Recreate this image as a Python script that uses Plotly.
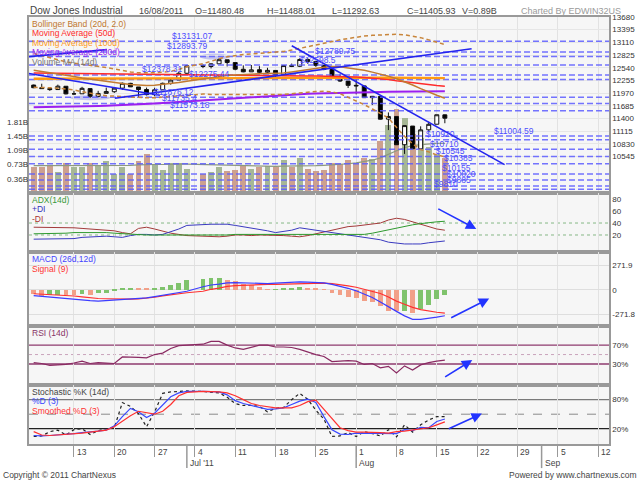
"""Dow Jones Industrial daily chart with indicator panels (ChartNexus style)."""

import numpy as np
import plotly.graph_objects as go

# ---------------- data ----------------
dates = [
    "2011-06-06", "2011-06-07", "2011-06-08", "2011-06-09", "2011-06-10",
    "2011-06-13", "2011-06-14", "2011-06-15", "2011-06-16", "2011-06-17",
    "2011-06-20", "2011-06-21", "2011-06-22", "2011-06-23", "2011-06-24",
    "2011-06-27", "2011-06-28", "2011-06-29", "2011-06-30", "2011-07-01",
    "2011-07-05", "2011-07-06", "2011-07-07", "2011-07-08",
    "2011-07-11", "2011-07-12", "2011-07-13", "2011-07-14", "2011-07-15",
    "2011-07-18", "2011-07-19", "2011-07-20", "2011-07-21", "2011-07-22",
    "2011-07-25", "2011-07-26", "2011-07-27", "2011-07-28", "2011-07-29",
    "2011-08-01", "2011-08-02", "2011-08-03", "2011-08-04", "2011-08-05",
    "2011-08-08", "2011-08-09", "2011-08-10", "2011-08-11", "2011-08-12",
    "2011-08-15", "2011-08-16",
]
opens = [12150, 12090, 12070, 12049, 12123,
         11952, 11954, 12070, 11897, 11963,
         12000, 12080, 12188, 12107, 12050,
         11934, 12043, 12188, 12263, 12415,
         12583, 12567, 12627, 12717,
         12655, 12505, 12447, 12494, 12438,
         12478, 12386, 12586, 12572, 12723,
         12680, 12592, 12500, 12302, 12239,
         12144, 12131, 11867, 11894, 11384,
         11445, 10810, 11229, 10719, 11144,
         11270, 11480.48]
highs = [12160, 12180, 12090, 12160, 12125,
         12020, 12110, 12075, 12020, 12093,
         12096, 12206, 12200, 12107, 12093,
         12090, 12205, 12286, 12448, 12603,
         12616, 12641, 12753, 12717,
         12655, 12593, 12601, 12575, 12538,
         12478, 12590, 12632, 12751, 12751,
         12680, 12592, 12500, 12391, 12239,
         12283, 12131, 11905, 11894, 11535,
         11445, 11244, 11229, 11223, 11327,
         11483, 11488.01]
lows = [12080, 12065, 12020, 12045, 11940,
        11930, 11954, 11862, 11876, 11963,
        11975, 12040, 12109, 11874, 11917,
        11898, 12043, 12158, 12263, 12398,
        12530, 12523, 12627, 12568,
        12482, 12437, 12447, 12413, 12412,
        12317, 12386, 12554, 12554, 12626,
        12559, 12483, 12283, 12220, 12083,
        11940, 11862, 11700, 11376, 11139,
        10809, 10604, 10711, 10719, 11087,
        11270, 11292.63]
closes = [12089.96, 12070.81, 12048.94, 12124.36, 11951.91,
          11952.97, 12076.11, 11897.27, 11961.52, 12004.36,
          12080.38, 12190.01, 12109.67, 12050.00, 11934.58,
          12043.56, 12188.69, 12261.42, 12414.34, 12582.77,
          12569.87, 12626.02, 12719.49, 12657.20,
          12505.76, 12446.88, 12491.61, 12437.12, 12479.73,
          12385.16, 12587.42, 12571.91, 12724.41, 12681.16,
          12592.80, 12501.30, 12302.55, 12240.11, 12143.24,
          12132.49, 11866.62, 11896.44, 11383.68, 11444.61,
          10809.85, 11239.77, 10719.94, 11143.31, 11269.02,
          11482.90, 11405.93]
prev_close = 12151.26  # close of 3 Jun, colours the first volume bar

volume_b = [0.68, 0.68, 0.72, 0.55, 0.76,
            0.68, 0.68, 0.78, 0.72, 0.82,
            0.49, 0.68, 0.49, 0.83, 1.00,
            0.72, 0.59, 0.78, 0.78, 0.61,
            0.49, 0.53, 0.68, 0.57,
            0.59, 0.69, 0.61, 0.68, 0.69,
            0.68, 0.86, 0.68, 0.90, 0.63,
            0.57, 0.59, 0.76, 0.74, 0.86,
            0.76, 0.89, 0.87, 1.33, 1.73,
            2.15, 1.93, 1.52, 1.40, 1.18,
            1.00, 0.89]
volume_ma = [0.70, 0.70, 0.70, 0.70, 0.70,
             0.70, 0.70, 0.70, 0.71, 0.71,
             0.71, 0.71, 0.71, 0.72, 0.73,
             0.73, 0.73, 0.74, 0.74, 0.74,
             0.73, 0.72, 0.71, 0.71,
             0.70, 0.70, 0.69, 0.68, 0.68,
             0.68, 0.69, 0.69, 0.69, 0.70,
             0.70, 0.71, 0.72, 0.73, 0.75,
             0.77, 0.80, 0.84, 0.90, 0.98,
             1.08, 1.16, 1.21, 1.24, 1.26,
             1.27, 1.27]

ma50 = [12420, 12418, 12415, 12413, 12410,
        12405, 12402, 12400, 12397, 12395,
        12393, 12390, 12388, 12385, 12382,
        12380, 12378, 12376, 12374, 12372,
        12370, 12368, 12365, 12362,
        12358, 12355, 12352, 12350, 12348,
        12346, 12346, 12348, 12350, 12352,
        12354, 12352, 12348, 12344, 12338,
        12332, 12322, 12310, 12292, 12272,
        12245, 12222, 12198, 12175, 12155,
        12138, 12125]
ma100 = [12290, 12291, 12292, 12293, 12294,
         12295, 12296, 12297, 12298, 12299,
         12300, 12301, 12302, 12303, 12304,
         12305, 12306, 12307, 12308, 12310,
         12311, 12312, 12313, 12314,
         12315, 12316, 12316, 12317, 12317,
         12318, 12318, 12319, 12319, 12320,
         12320, 12320, 12320, 12319, 12319,
         12318, 12317, 12316, 12315, 12313,
         12312, 12311, 12310, 12308, 12307,
         12306, 12305]
ma200 = [11650, 11652, 11655, 11658, 11661,
         11665, 11669, 11673, 11678, 11684,
         11690, 11697, 11705, 11714, 11724,
         11735, 11746, 11758, 11770, 11783,
         11808, 11821, 11834, 11847,
         11860, 11872, 11884, 11896, 11907,
         11918, 11928, 11938, 11947, 11955,
         11962, 11968, 11974, 11979, 11983,
         11987, 11990, 11993, 11996, 11998,
         12000, 12002, 12004, 12006, 12007,
         12008, 12010]
bb_mid = [12480, 12455, 12425, 12395, 12368,
          12340, 12310, 12282, 12255, 12228,
          12205, 12185, 12165, 12150, 12142,
          12145, 12160, 12180, 12205, 12235,
          12290, 12315, 12340, 12362,
          12378, 12390, 12398, 12404, 12408,
          12410, 12422, 12445, 12475, 12505,
          12530, 12552, 12565, 12560, 12535,
          12510, 12480, 12440, 12400, 12350,
          12290, 12225, 12150, 12070, 11990,
          11920, 11855]
bb_upper = [12860, 12810, 12760, 12710, 12670,
            12640, 12620, 12600, 12575, 12545,
            12510, 12475, 12445, 12425, 12420,
            12425, 12440, 12460, 12500, 12560,
            12630, 12690, 12740, 12785,
            12815, 12835, 12850, 12860, 12870,
            12885, 12905, 12935, 12975, 13015,
            13055, 13095, 13130, 13165, 13195,
            13225, 13250, 13268, 13280, 13288,
            13290, 13280, 13255, 13215, 13165,
            13110, 13060]
bb_lower = [12100, 12100, 12090, 12080, 12066,
            12040, 12000, 11964, 11935, 11911,
            11900, 11895, 11885, 11875, 11864,
            11865, 11880, 11900, 11910, 11910,
            11950, 11940, 11940, 11940,
            11941, 11945, 11946, 11948, 11946,
            11935, 11939, 11955, 11975, 11995,
            12005, 12009, 12000, 11955, 11875,
            11795, 11710, 11612, 11520, 11412,
            11200, 11000, 10830, 10700, 10650,
            10580, 10540]

# support / resistance levels drawn on the chart
levels = [13131.07, 12893.79, 12789.75, 12598.5, 12378.31, 12275.44,
          11876.12, 11735.4, 11573.18, 11004.59, 10920, 10710, 10545,
          10385, 10155, 10020, 9885, 9810]

adx = [22, 22, 23, 23, 23, 24, 24, 25, 25, 24,
       23, 22, 21, 20, 20, 20, 20, 19, 19, 19,
       20, 20, 20, 20,
       21, 21, 21, 20, 20, 20, 20, 20, 20, 20,
       20, 20, 20, 20, 20, 20, 21, 23, 26, 29,
       32, 34, 37, 39, 41, 42, 43]
plus_di = [13, 13, 13, 13, 13, 14, 16, 17, 18, 18,
           17, 16, 19, 21, 21, 20, 21, 25, 30, 36,
           38, 38, 38, 38,
           36, 34, 32, 30, 27, 24, 26, 28, 32, 30,
           28, 26, 24, 22, 20, 19, 17, 14, 12, 8,
           6, 5, 5, 5, 7, 9, 10]
minus_di = [33, 33, 32, 32, 32, 32, 31, 30, 29, 28,
            27, 24, 22, 31, 33, 30, 26, 23, 21, 19,
            18, 17, 17, 18,
            20, 20, 19, 20, 20, 20, 19, 18, 17, 19,
            22, 24, 28, 31, 34, 35, 37, 38, 40, 45,
            48, 46, 42, 37, 33, 30, 28]

macd = [-63, -72, -80, -88, -98, -106, -112, -120, -126, -120,
        -112, -105, -100, -95, -89, -75, -60, -42, -28, -15,
        35, 55, 65, 78,
        82, 78, 74, 71, 70, 75, 80, 85, 89, 86,
        84, 78, 62, 42, 18, -10, -50, -85, -135, -190,
        -240, -290, -329, -330, -320, -305, -289]
signal = [-43, -47, -52, -56, -59, -68, -78, -88, -96, -99,
          -102, -104, -104, -100, -92, -82, -67, -55, -42, -32,
          -15, 7, 20, 40,
          48, 53, 56, 59, 61, 63, 65, 67, 69, 72,
          78, 76, 70, 60, 46, 30, 5, -15, -40, -80,
          -125, -160, -195, -220, -238, -250, -259]
macd_hist = [-50, -62, -58, -52, -55, -60, -48, -52, -37, -30,
             -11, 22, 24, 15, 12, 15, 33, 59, 81, 107,
             126, 133, 134, 107,
             96, 70, 59, 33, 8, 11, 15, 22, 33, 22,
             15, 10, -30, -55, -74, -92, -118, -130, -178, -230,
             -240, -230, -260, -215, -170, -100, -55]

rsi = [33, 31, 27, 28, 29, 32, 36, 31, 33, 32,
       31, 45, 45, 44, 43, 50, 53, 63, 69, 70,
       72, 78, 78, 70,
       64, 61, 66, 70, 70, 66, 66, 65, 61, 55,
       50, 46, 35, 36, 37, 36, 29, 31, 22, 25,
       11, 26, 17, 28, 33, 36, 38]

stoch_k = [4, 5, 14, 17, 7, 18, 20, 8, 16, 20,
           22, 74, 66, 51, 24, 55, 93, 96, 97, 98,
           97, 96, 94, 85,
           72, 68, 68, 66, 55, 62, 64, 80, 93, 81,
           58, 40, 4, 5, 12, 4, 14, 10, 5, 18,
           3, 28, 13, 28, 38, 45, 45]
stoch_d = [6, 5, 6, 7, 8, 10, 12, 13, 15, 17,
           26, 45, 62, 55, 43, 52, 70, 86, 94, 97,
           97, 97, 96, 90,
           78, 72, 68, 64, 60, 61, 63, 70, 77, 81,
           74, 45, 18, 9, 8, 11, 11, 11, 10, 10,
           10, 18, 16, 23, 22, 35, 40]
stoch_sd = [14, 7, 6, 7, 8, 9, 11, 13, 15, 17,
            24, 35, 47, 56, 53, 50, 56, 70, 88, 95,
            97, 97, 96, 94,
            88, 80, 72, 68, 65, 63, 63, 63, 68, 76,
            79, 60, 42, 22, 16, 13, 13, 13, 12, 11,
            14, 15, 17, 19, 22, 28, 34]

price_ticks = [13680, 13395, 13110, 12825, 12540, 12255, 11970, 11685,
               11400, 11115, 10830, 10545]
volume_ticks = [0.363, 0.726, 1.089, 1.452, 1.815]
volume_tick_text = ["0.36B", "0.73B", "1.09B", "1.45B", "1.81B"]
month_starts = ["2011-07-01", "2011-08-01", "2011-09-01"]
month_text = ["Jul '11", "Aug", "Sep"]

# ---------------- layout constants ----------------
W, H = 640, 480
FONT = "Liberation Sans, Arial, sans-serif"
X_RANGE = [-0.58, 71.36]
XDOM = [29 / W, 609 / W]


def band(top_px, bottom_px):
    return [1 - bottom_px / H, 1 - top_px / H]


def px_x(p):
    return p / W


def px_y(p):
    return 1 - p / H


def money(v):
    return "$" + f"{v:.2f}".rstrip("0").rstrip(".")


# weekday slots: holidays (4 Jul) stay as an empty slot
day0 = np.datetime64(dates[0])
x = np.busday_count(day0, np.array(dates, dtype="datetime64[D]"))
week_starts = np.arange(np.datetime64("2011-06-13"), np.datetime64("2011-09-13"),
                        np.timedelta64(7, "D"))
week_x = np.busday_count(day0, week_starts)
week_text = [str(d.astype(object).day) for d in week_starts]
month_x = np.busday_count(day0, np.array(month_starts, dtype="datetime64[D]"))

closes_a = np.array(closes)
vol_up = closes_a >= np.concatenate([[prev_close], closes_a[:-1]])
vol_colors = ["#a6b796" if u else "#cda08f" for u in vol_up]
hist_a = np.array(macd_hist)
hist_up = np.diff(hist_a, prepend=np.inf) > 0
hist_colors = ["#7fc36c" if u else "#f2a088" for u in hist_up]

fig = go.Figure()

# ---- main panel: volume underneath (left axis) ----
fig.add_bar(x=x, y=volume_b, width=0.74, marker=dict(color=vol_colors, line_width=0),
            xaxis="x", yaxis="y")
fig.add_scatter(x=x, y=volume_ma, mode="lines", line=dict(color="#8d9a7e", width=1.2),
                xaxis="x", yaxis="y")

# ---- price (right axis, overlaid) ----
for lvl in levels:
    fig.add_scatter(x=X_RANGE, y=[lvl, lvl], mode="lines",
                    line=dict(color="rgba(92,92,255,0.85)", width=1.5, dash="6px,3px"),
                    xaxis="x", yaxis="y2")

fig.add_scatter(x=x, y=ma200, mode="lines", line=dict(color="#9b1ff0", width=2),
                xaxis="x", yaxis="y2")
fig.add_scatter(x=x, y=ma100, mode="lines", line=dict(color="#ff9a10", width=2.4),
                xaxis="x", yaxis="y2")
fig.add_scatter(x=x, y=ma50, mode="lines", line=dict(color="#ff2b2b", width=1.5),
                xaxis="x", yaxis="y2")
fig.add_scatter(x=x, y=bb_mid, mode="lines", line=dict(color="#c27a30", width=1.5),
                xaxis="x", yaxis="y2")
for b in (bb_upper, bb_lower):
    fig.add_scatter(x=x, y=b, mode="lines",
                    line=dict(color="#c8853a", width=1.5, dash="4px,3px"),
                    xaxis="x", yaxis="y2")

fig.add_candlestick(
    x=x, open=opens, high=highs, low=lows, close=closes,
    xaxis="x", yaxis="y2", whiskerwidth=0,
    increasing=dict(line=dict(color="#111111", width=1), fillcolor="#ffffff"),
    decreasing=dict(line=dict(color="#111111", width=1), fillcolor="#000000"),
)

# hand drawn trend lines (slot, price)
trend_lines = [
    ((-0.58, 12789), (9.09, 12945)),
    ((-0.58, 12411), (15.66, 11921)),
    ((10.08, 11854), (54.32, 12967)),
    ((32.01, 13034), (58.41, 10362)),
]
for (x0, y0), (x1, y1) in trend_lines:
    fig.add_scatter(x=[x0, x1], y=[y0, y1], mode="lines",
                    line=dict(color="#2424ee", width=1.6), xaxis="x", yaxis="y2")

# ---- ADX ----
fig.add_scatter(x=x, y=minus_di, mode="lines", line=dict(color="#a33a3a", width=1),
                xaxis="x2", yaxis="y3")
fig.add_scatter(x=x, y=plus_di, mode="lines", line=dict(color="#3a3ac0", width=1),
                xaxis="x2", yaxis="y3")
fig.add_scatter(x=x, y=adx, mode="lines", line=dict(color="#2e9a2e", width=1),
                xaxis="x2", yaxis="y3")

# ---- MACD ----
fig.add_bar(x=x, y=macd_hist, width=0.6, marker=dict(color=hist_colors, line_width=0),
            xaxis="x3", yaxis="y4")
fig.add_scatter(x=x, y=signal, mode="lines", line=dict(color="#ff3030", width=1.2),
                xaxis="x3", yaxis="y4")
fig.add_scatter(x=x, y=macd, mode="lines", line=dict(color="#3c3cff", width=1.2),
                xaxis="x3", yaxis="y4")

# ---- RSI ----
fig.add_scatter(x=x, y=rsi, mode="lines", line=dict(color="#8a2a62", width=1.2),
                xaxis="x4", yaxis="y5")

# ---- Stochastic ----
fig.add_scatter(x=x, y=stoch_k, mode="lines", line=dict(color="#222222", width=1.2, dash="dot"),
                xaxis="x5", yaxis="y6")
fig.add_scatter(x=x, y=stoch_d, mode="lines", line=dict(color="#3a48ff", width=1.2),
                xaxis="x5", yaxis="y6")
fig.add_scatter(x=x, y=stoch_sd, mode="lines", line=dict(color="#ff3030", width=1.2),
                xaxis="x5", yaxis="y6")

# ---------------- axes ----------------
tickfont = dict(family=FONT, size=8, color="#333333")
base_x = dict(range=X_RANGE, domain=XDOM, showticklabels=False, tickvals=week_x,
              showgrid=True, gridcolor="#e2e2e2", gridwidth=1, zeroline=False,
              showline=True, mirror=True, linecolor="#999999", linewidth=1.5, ticks="")
base_y = dict(side="right", showline=True, mirror=True, linecolor="#999999", linewidth=1.5,
              zeroline=False, ticks="", tickfont=tickfont, showgrid=False)

main_dom = band(13, 190.7)
layout_axes = dict(
    xaxis=dict(base_x, anchor="y", rangeslider=dict(visible=False)),
    yaxis=dict(domain=main_dom, anchor="x", side="left", range=[0, 4.498],
               tickvals=volume_ticks, ticktext=volume_tick_text, showgrid=False,
               zeroline=False, ticks="", tickfont=tickfont, showline=False),
    yaxis2=dict(base_y, overlaying="y", anchor="x", range=[9723, 13681],
                tickvals=price_ticks, tickformat="d", showgrid=True, gridcolor="#e6e6e6"),
    xaxis2=dict(base_x, anchor="y3"),
    yaxis3=dict(base_y, domain=band(190.7, 250), anchor="x2", range=[-8.3, 90],
                tickvals=[20, 40, 60, 80]),
    xaxis3=dict(base_x, anchor="y4"),
    yaxis4=dict(base_y, domain=band(250, 325), anchor="x3", range=[-407, 425],
                tickvals=[-271.8, 0, 271.9], ticktext=["-271.8", "0", "271.9"],
                showgrid=True, gridcolor="#dedede"),
    xaxis4=dict(base_x, anchor="y5"),
    yaxis5=dict(base_y, domain=band(325, 384), anchor="x4", range=[-14.2, 110],
                tickvals=[30, 70], ticktext=["30%", "70%"]),
    xaxis5=dict(base_x, anchor="y6", ticks="outside", ticklen=11, tickcolor="#999999",
                tickwidth=1),
    yaxis6=dict(base_y, domain=band(384, 444), anchor="x5", range=[-12.2, 110.7],
                tickvals=[20, 80], ticktext=["20%", "80%"]),
)

# ---------------- reference lines & highlights ----------------
shapes = []


def hline(xref, yref, y, color, width=1, dash="solid"):
    shapes.append(dict(type="line", xref=f"{xref} domain", yref=yref, x0=0, x1=1,
                       y0=y, y1=y, line=dict(color=color, width=width, dash=dash),
                       layer="below"))


hline("x2", "y3", 40, "#86b886", 1, "dot")
hline("x2", "y3", 20, "#86b886", 1, "dot")
hline("x4", "y5", 70, "#8e3a6e", 1.3)
hline("x4", "y5", 30, "#8e3a6e", 1.3)
hline("x4", "y5", 50, "#c9a3bb", 1, "dot")
hline("x5", "y6", 80, "#7a7a7a", 1.3)
hline("x5", "y6", 20, "#222222", 1.3)
hline("x5", "y6", 50, "#8a8a8a", 1, "dash")

for (x0, x1, y0, y1) in [(20.6, 24.3, 12722, 12856), (4.5, 9.5, 11809, 11921)]:
    shapes.append(dict(type="circle", xref="x", yref="y2", x0=x0, x1=x1, y0=y0, y1=y1,
                       fillcolor="rgba(105,105,225,0.35)", line=dict(width=0),
                       layer="below"))

for mx in month_x:
    shapes.append(dict(type="line", xref="x5", yref="paper", x0=mx, x1=mx,
                       y0=px_y(444), y1=px_y(468), line=dict(color="#999999", width=1.5)))

# ---------------- text ----------------
annotations = []


def text(s, xp, yp, color="#444444", size=8.5, anchor="left"):
    annotations.append(dict(text=s, x=px_x(xp), y=px_y(yp), xref="paper", yref="paper",
                            xanchor=anchor, yanchor="middle", showarrow=False,
                            font=dict(family=FONT, size=size, color=color)))


text("Dow Jones Industrial", 28, 7, "#444444", 10)
text(dates[-1][8:10] + "/" + dates[-1][5:7] + "/" + dates[-1][:4], 137, 7, "#444444", 9)
text(f"O={opens[-1]:.2f}", 193, 7, "#444444", 9)
text(f"H={highs[-1]:.2f}", 265, 7, "#444444", 9)
text(f"L={lows[-1]:.2f}", 330, 7, "#444444", 9)
text(f"C={closes[-1]:.2f}", 405, 7, "#444444", 9)
text(f"V={volume_b[-1]:.2f}B", 460, 7, "#444444", 9)
text("Charted By EDWIN32US", 519, 7, "#9a9a9a", 9)

for s, c, yp in [("Bollinger Band (20d, 2.0)", "#c0762e", 20),
                 ("Moving Average (50d)", "#ff2a2a", 29.5),
                 ("Moving Average (100d)", "#ff9a1a", 39),
                 ("Moving Average (200d)", "#9a22ee", 48.5),
                 ("Volume MA (14d)", "#777777", 58),
                 ("ADX(14d)", "#3a9a3a", 197.5),
                 ("+DI", "#3333bb", 207),
                 ("-DI", "#aa3333", 216.5),
                 ("MACD (26d,12d)", "#4444ff", 257.5),
                 ("Signal (9)", "#ff3333", 267),
                 ("RSI (14d)", "#883366", 331.5),
                 ("Stochastic %K (14d)", "#444444", 391),
                 ("%D (3)", "#3344ff", 400.5),
                 ("Smoothed %D (3)", "#ff3333", 410)]:
    text(s, 30, yp, c, 8.5)

# level labels sit just above their line
level_label_x = [16.9, 16.3, 34.6, 32.8, 13.2, 19.0, 14.7, 15.7, 16.7, 56.8,
                 48.4, 48.9, 49.7, 50.6, 50.4, 51.0, 51.0, 49.4]
for lvl, lx in zip(levels, level_label_x):
    annotations.append(dict(text=money(lvl), x=lx, y=lvl, xref="x", yref="y2",
                            xanchor="left", yanchor="bottom", yshift=-1.5, showarrow=False,
                            font=dict(family=FONT, size=8.5, color="#4d4dff")))

# hand drawn arrows: (x axis, y axis, tail, head)
arrows = [("x2", "y3", (50.0, 65), (54.9, 30)),
          ("x3", "y4", (51.6, -319), (56.5, -97)),
          ("x4", "y5", (50.85, 0.5), (54.4, 38.4)),
          ("x5", "y6", (51.3, 18.5), (55.6, 51.3))]
for xa, ya, (tx, ty), (hx, hy) in arrows:
    annotations.append(dict(text="", x=hx, y=hy, xref=xa, yref=ya, ax=tx, ay=ty,
                            axref=xa, ayref=ya, showarrow=True, arrowhead=2,
                            arrowsize=1.3, arrowwidth=1.6, arrowcolor="#2233ff"))

for wx, wt in zip(week_x, week_text):
    annotations.append(dict(text=wt, x=wx, y=px_y(452), xref="x5", yref="paper",
                            xanchor="left", yanchor="middle", xshift=1, showarrow=False,
                            font=dict(family=FONT, size=8.5, color="#444444")))
for mx, mt in zip(month_x, month_text):
    annotations.append(dict(text=mt, x=mx, y=px_y(463), xref="x5", yref="paper",
                            xanchor="left", yanchor="middle", xshift=1, showarrow=False,
                            font=dict(family=FONT, size=8.5, color="#444444")))

text("Copyright © 2011 ChartNexus", 1, 475, "#444444", 8.5)
text("Powered by www.chartnexus.com", 639, 475, "#444444", 8.5, anchor="right")

fig.update_layout(
    width=W, height=H, autosize=False,
    margin=dict(l=0, r=0, t=0, b=0),
    paper_bgcolor="#ffffff", plot_bgcolor="#f6f6f6",
    showlegend=False, hovermode=False, bargap=0,
    font=dict(family=FONT, size=8, color="#333333"),
    shapes=shapes, annotations=annotations,
    **layout_axes,
)

fig.write_html("out.html", config={"displayModeBar": False},
               post_script="document.body.style.margin='0';"
                           "document.body.style.overflow='hidden';")
